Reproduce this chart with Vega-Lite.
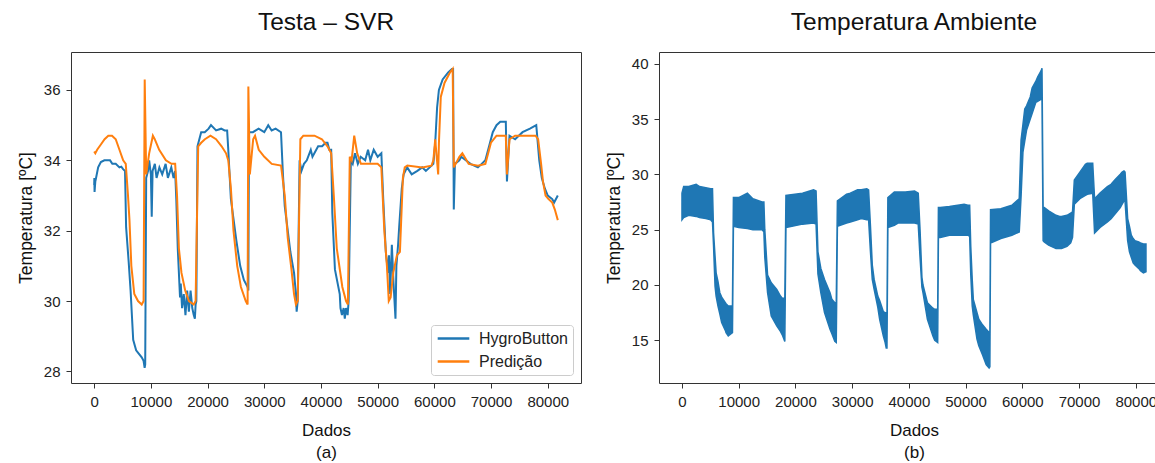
{
  "$schema": "https://vega.github.io/schema/vega-lite/v6.json",
  "padding": {"left": 16, "top": 9, "right": 0, "bottom": 0},
  "spacing": 22,
  "background": "white",
  "resolve": {"legend": {"color": "independent"}, "scale": {"color": "independent"}},
  "config": {
    "font": "Liberation Sans",
    "view": {"stroke": "#333", "strokeWidth": 1},
    "axis": {"grid": false, "domain": false, "tickColor": "#333", "tickSize": 5, "labelFontSize": 15, "labelColor": "#222", "titleColor": "#111", "titleFontWeight": "normal", "labelPadding": 6},
    "axisX": {"titleFontSize": 17, "titlePadding": 13, "titleLineHeight": 22},
    "axisY": {"titleFontSize": 17.5, "titlePadding": 8},
    "title": {"fontSize": 24.5, "fontWeight": "normal", "color": "#111", "offset": 17},
    "legend": {"orient": "bottom-right", "offset": 8, "strokeColor": "#ccc", "fillColor": "white", "cornerRadius": 3, "padding": 5, "labelFontSize": 16, "labelColor": "#222", "symbolType": "stroke", "symbolSize": 1000, "symbolStrokeWidth": 2.5, "labelOffset": 8, "rowPadding": 6, "clipHeight": 17}
  },
  "datasets": {
    "svr": [
      {"x":0,"t":33.3,"s":"HygroButton"},{"x":30,"t":33.5,"s":"HygroButton"},{"x":66,"t":33.1,"s":"HygroButton"},{"x":200,"t":33.4,"s":"HygroButton"},{"x":328,"t":33.5,"s":"HygroButton"},{"x":700,"t":33.8,"s":"HygroButton"},{"x":1179,"t":33.95,"s":"HygroButton"},{"x":1800,"t":34.0,"s":"HygroButton"},{"x":2500,"t":34.0,"s":"HygroButton"},{"x":2800,"t":34.0,"s":"HygroButton"},{"x":3200,"t":33.9,"s":"HygroButton"},{"x":3800,"t":33.9,"s":"HygroButton"},{"x":4450,"t":33.8,"s":"HygroButton"},{"x":4780,"t":33.82,"s":"HygroButton"},{"x":5100,"t":33.75,"s":"HygroButton"},{"x":5440,"t":33.7,"s":"HygroButton"},{"x":5630,"t":32.1,"s":"HygroButton"},{"x":6090,"t":31.1,"s":"HygroButton"},{"x":6420,"t":30.3,"s":"HygroButton"},{"x":6880,"t":28.9,"s":"HygroButton"},{"x":7400,"t":28.6,"s":"HygroButton"},{"x":8380,"t":28.4,"s":"HygroButton"},{"x":8710,"t":28.3,"s":"HygroButton"},{"x":8900,"t":28.1,"s":"HygroButton"},{"x":9000,"t":28.2,"s":"HygroButton"},{"x":9170,"t":33.5,"s":"HygroButton"},{"x":9500,"t":33.7,"s":"HygroButton"},{"x":9700,"t":34.0,"s":"HygroButton"},{"x":10000,"t":33.6,"s":"HygroButton"},{"x":10150,"t":32.4,"s":"HygroButton"},{"x":10300,"t":33.7,"s":"HygroButton"},{"x":10700,"t":33.9,"s":"HygroButton"},{"x":11000,"t":33.5,"s":"HygroButton"},{"x":11500,"t":33.8,"s":"HygroButton"},{"x":12000,"t":33.6,"s":"HygroButton"},{"x":12600,"t":33.9,"s":"HygroButton"},{"x":13000,"t":33.5,"s":"HygroButton"},{"x":13600,"t":33.8,"s":"HygroButton"},{"x":14000,"t":33.5,"s":"HygroButton"},{"x":14280,"t":33.7,"s":"HygroButton"},{"x":14480,"t":32.9,"s":"HygroButton"},{"x":14740,"t":31.5,"s":"HygroButton"},{"x":15140,"t":30.1,"s":"HygroButton"},{"x":15270,"t":30.5,"s":"HygroButton"},{"x":15500,"t":29.8,"s":"HygroButton"},{"x":15800,"t":30.2,"s":"HygroButton"},{"x":16100,"t":29.6,"s":"HygroButton"},{"x":16400,"t":30.3,"s":"HygroButton"},{"x":16700,"t":29.7,"s":"HygroButton"},{"x":17000,"t":30.3,"s":"HygroButton"},{"x":17300,"t":29.8,"s":"HygroButton"},{"x":17560,"t":29.6,"s":"HygroButton"},{"x":17760,"t":29.5,"s":"HygroButton"},{"x":17890,"t":29.9,"s":"HygroButton"},{"x":18020,"t":30.0,"s":"HygroButton"},{"x":18220,"t":34.4,"s":"HygroButton"},{"x":18870,"t":34.8,"s":"HygroButton"},{"x":19500,"t":34.8,"s":"HygroButton"},{"x":20180,"t":34.9,"s":"HygroButton"},{"x":20600,"t":35.0,"s":"HygroButton"},{"x":21500,"t":34.85,"s":"HygroButton"},{"x":22400,"t":34.9,"s":"HygroButton"},{"x":23000,"t":34.85,"s":"HygroButton"},{"x":23450,"t":34.85,"s":"HygroButton"},{"x":23650,"t":34.3,"s":"HygroButton"},{"x":24110,"t":32.9,"s":"HygroButton"},{"x":25090,"t":31.7,"s":"HygroButton"},{"x":25750,"t":31.0,"s":"HygroButton"},{"x":26400,"t":30.6,"s":"HygroButton"},{"x":27060,"t":30.4,"s":"HygroButton"},{"x":27190,"t":30.3,"s":"HygroButton"},{"x":27300,"t":34.8,"s":"HygroButton"},{"x":28000,"t":34.8,"s":"HygroButton"},{"x":29000,"t":34.9,"s":"HygroButton"},{"x":30000,"t":34.8,"s":"HygroButton"},{"x":30700,"t":35.0,"s":"HygroButton"},{"x":31300,"t":34.85,"s":"HygroButton"},{"x":32000,"t":34.9,"s":"HygroButton"},{"x":32950,"t":34.8,"s":"HygroButton"},{"x":33290,"t":33.6,"s":"HygroButton"},{"x":33610,"t":32.7,"s":"HygroButton"},{"x":34600,"t":31.4,"s":"HygroButton"},{"x":35250,"t":30.8,"s":"HygroButton"},{"x":35580,"t":30.2,"s":"HygroButton"},{"x":35710,"t":29.7,"s":"HygroButton"},{"x":35900,"t":30.0,"s":"HygroButton"},{"x":36230,"t":34.0,"s":"HygroButton"},{"x":36560,"t":33.7,"s":"HygroButton"},{"x":37000,"t":33.9,"s":"HygroButton"},{"x":37500,"t":34.0,"s":"HygroButton"},{"x":38200,"t":34.3,"s":"HygroButton"},{"x":38500,"t":34.1,"s":"HygroButton"},{"x":39500,"t":34.4,"s":"HygroButton"},{"x":40200,"t":34.4,"s":"HygroButton"},{"x":40820,"t":34.5,"s":"HygroButton"},{"x":41150,"t":34.5,"s":"HygroButton"},{"x":41470,"t":34.3,"s":"HygroButton"},{"x":41800,"t":34.3,"s":"HygroButton"},{"x":42000,"t":32.5,"s":"HygroButton"},{"x":42460,"t":30.9,"s":"HygroButton"},{"x":43310,"t":30.2,"s":"HygroButton"},{"x":43440,"t":29.8,"s":"HygroButton"},{"x":43700,"t":29.6,"s":"HygroButton"},{"x":44000,"t":29.8,"s":"HygroButton"},{"x":44200,"t":29.5,"s":"HygroButton"},{"x":44420,"t":29.8,"s":"HygroButton"},{"x":44700,"t":29.6,"s":"HygroButton"},{"x":44880,"t":30.0,"s":"HygroButton"},{"x":45270,"t":34.0,"s":"HygroButton"},{"x":45600,"t":33.9,"s":"HygroButton"},{"x":46000,"t":34.2,"s":"HygroButton"},{"x":46500,"t":33.9,"s":"HygroButton"},{"x":47000,"t":34.1,"s":"HygroButton"},{"x":47800,"t":34.0,"s":"HygroButton"},{"x":48300,"t":34.3,"s":"HygroButton"},{"x":48700,"t":34.0,"s":"HygroButton"},{"x":49300,"t":34.3,"s":"HygroButton"},{"x":50000,"t":34.1,"s":"HygroButton"},{"x":50650,"t":34.2,"s":"HygroButton"},{"x":50980,"t":32.9,"s":"HygroButton"},{"x":51430,"t":31.4,"s":"HygroButton"},{"x":51830,"t":30.8,"s":"HygroButton"},{"x":52000,"t":31.3,"s":"HygroButton"},{"x":52200,"t":30.2,"s":"HygroButton"},{"x":52500,"t":31.6,"s":"HygroButton"},{"x":52800,"t":30.5,"s":"HygroButton"},{"x":53140,"t":29.5,"s":"HygroButton"},{"x":53300,"t":31.0,"s":"HygroButton"},{"x":53600,"t":31.6,"s":"HygroButton"},{"x":53790,"t":32.1,"s":"HygroButton"},{"x":54250,"t":33.2,"s":"HygroButton"},{"x":54580,"t":33.6,"s":"HygroButton"},{"x":55200,"t":33.8,"s":"HygroButton"},{"x":56000,"t":33.6,"s":"HygroButton"},{"x":57000,"t":33.7,"s":"HygroButton"},{"x":57850,"t":33.8,"s":"HygroButton"},{"x":58500,"t":33.7,"s":"HygroButton"},{"x":59170,"t":33.8,"s":"HygroButton"},{"x":59820,"t":33.9,"s":"HygroButton"},{"x":60150,"t":34.5,"s":"HygroButton"},{"x":60480,"t":35.5,"s":"HygroButton"},{"x":60800,"t":36.0,"s":"HygroButton"},{"x":61460,"t":36.3,"s":"HygroButton"},{"x":62440,"t":36.5,"s":"HygroButton"},{"x":63100,"t":36.6,"s":"HygroButton"},{"x":63300,"t":36.6,"s":"HygroButton"},{"x":63425,"t":32.6,"s":"HygroButton"},{"x":63620,"t":33.9,"s":"HygroButton"},{"x":64400,"t":34.0,"s":"HygroButton"},{"x":64740,"t":34.1,"s":"HygroButton"},{"x":66370,"t":33.9,"s":"HygroButton"},{"x":67680,"t":33.8,"s":"HygroButton"},{"x":68340,"t":33.9,"s":"HygroButton"},{"x":68990,"t":34.0,"s":"HygroButton"},{"x":69650,"t":34.4,"s":"HygroButton"},{"x":70300,"t":34.8,"s":"HygroButton"},{"x":70960,"t":35.0,"s":"HygroButton"},{"x":71620,"t":35.1,"s":"HygroButton"},{"x":72600,"t":35.1,"s":"HygroButton"},{"x":72800,"t":33.4,"s":"HygroButton"},{"x":73250,"t":34.7,"s":"HygroButton"},{"x":74240,"t":34.6,"s":"HygroButton"},{"x":75550,"t":34.8,"s":"HygroButton"},{"x":76860,"t":34.9,"s":"HygroButton"},{"x":77970,"t":35.0,"s":"HygroButton"},{"x":78500,"t":34.0,"s":"HygroButton"},{"x":78950,"t":33.5,"s":"HygroButton"},{"x":79480,"t":33.2,"s":"HygroButton"},{"x":80000,"t":33.0,"s":"HygroButton"},{"x":80790,"t":32.9,"s":"HygroButton"},{"x":81120,"t":32.8,"s":"HygroButton"},{"x":81770,"t":33.0,"s":"HygroButton"},
      {"x":0,"t":34.25,"s":"Predição"},{"x":197,"t":34.2,"s":"Predição"},{"x":524,"t":34.3,"s":"Predição"},{"x":1179,"t":34.45,"s":"Predição"},{"x":1835,"t":34.6,"s":"Predição"},{"x":2490,"t":34.7,"s":"Predição"},{"x":3145,"t":34.7,"s":"Predição"},{"x":3800,"t":34.6,"s":"Predição"},{"x":4455,"t":34.3,"s":"Predição"},{"x":5111,"t":34.0,"s":"Predição"},{"x":5569,"t":33.9,"s":"Predição"},{"x":5962,"t":33.0,"s":"Predição"},{"x":6224,"t":32.3,"s":"Predição"},{"x":6552,"t":31.0,"s":"Predição"},{"x":7076,"t":30.2,"s":"Predição"},{"x":7731,"t":30.0,"s":"Predição"},{"x":8387,"t":29.9,"s":"Predição"},{"x":8714,"t":30.0,"s":"Predição"},{"x":8911,"t":36.3,"s":"Predição"},{"x":9173,"t":33.6,"s":"Predição"},{"x":9697,"t":34.2,"s":"Predição"},{"x":10352,"t":34.7,"s":"Predição"},{"x":10680,"t":34.6,"s":"Predição"},{"x":11466,"t":34.3,"s":"Predição"},{"x":12645,"t":34.0,"s":"Predição"},{"x":13628,"t":33.9,"s":"Predição"},{"x":14283,"t":33.9,"s":"Predição"},{"x":14611,"t":33.0,"s":"Predição"},{"x":14939,"t":31.5,"s":"Predição"},{"x":15397,"t":30.8,"s":"Predição"},{"x":16052,"t":30.3,"s":"Predição"},{"x":16708,"t":30.0,"s":"Predição"},{"x":17559,"t":29.9,"s":"Predição"},{"x":17887,"t":30.0,"s":"Predição"},{"x":18346,"t":34.4,"s":"Predição"},{"x":18870,"t":34.5,"s":"Predição"},{"x":19525,"t":34.6,"s":"Predição"},{"x":20508,"t":34.7,"s":"Predição"},{"x":21491,"t":34.6,"s":"Predição"},{"x":22473,"t":34.4,"s":"Predição"},{"x":23260,"t":34.2,"s":"Predição"},{"x":23653,"t":34.0,"s":"Predição"},{"x":24112,"t":33.2,"s":"Predição"},{"x":24570,"t":32.0,"s":"Predição"},{"x":25225,"t":31.0,"s":"Predição"},{"x":25880,"t":30.4,"s":"Predição"},{"x":26732,"t":30.0,"s":"Predição"},{"x":27060,"t":29.9,"s":"Predição"},{"x":27191,"t":36.1,"s":"Predição"},{"x":27453,"t":33.6,"s":"Predição"},{"x":28043,"t":34.6,"s":"Predição"},{"x":28370,"t":34.7,"s":"Predição"},{"x":29025,"t":34.3,"s":"Predição"},{"x":30008,"t":34.1,"s":"Predição"},{"x":31319,"t":33.9,"s":"Predição"},{"x":32957,"t":33.85,"s":"Predição"},{"x":33612,"t":33.0,"s":"Predição"},{"x":34136,"t":31.8,"s":"Predição"},{"x":34791,"t":30.9,"s":"Predição"},{"x":35250,"t":30.2,"s":"Predição"},{"x":35578,"t":29.9,"s":"Predição"},{"x":35905,"t":30.0,"s":"Predição"},{"x":36364,"t":34.6,"s":"Predição"},{"x":36888,"t":34.7,"s":"Predição"},{"x":38854,"t":34.7,"s":"Predição"},{"x":40164,"t":34.6,"s":"Predição"},{"x":41147,"t":34.4,"s":"Predição"},{"x":41802,"t":34.2,"s":"Predição"},{"x":42261,"t":33.0,"s":"Predição"},{"x":42785,"t":31.5,"s":"Predição"},{"x":43767,"t":30.4,"s":"Predição"},{"x":44423,"t":30.0,"s":"Predição"},{"x":44750,"t":29.9,"s":"Predição"},{"x":45078,"t":34.1,"s":"Predição"},{"x":45405,"t":34.0,"s":"Predição"},{"x":45864,"t":34.7,"s":"Predição"},{"x":46388,"t":34.2,"s":"Predição"},{"x":47043,"t":33.9,"s":"Predição"},{"x":48681,"t":33.9,"s":"Predição"},{"x":49992,"t":33.9,"s":"Predição"},{"x":50647,"t":33.8,"s":"Predição"},{"x":51172,"t":32.0,"s":"Predição"},{"x":51630,"t":31.0,"s":"Predição"},{"x":51958,"t":30.0,"s":"Predição"},{"x":52285,"t":30.1,"s":"Predição"},{"x":52744,"t":30.8,"s":"Predição"},{"x":53399,"t":31.3,"s":"Predição"},{"x":53924,"t":31.4,"s":"Predição"},{"x":54448,"t":33.5,"s":"Predição"},{"x":54776,"t":33.8,"s":"Predição"},{"x":55234,"t":33.85,"s":"Predição"},{"x":57855,"t":33.8,"s":"Predição"},{"x":59493,"t":33.85,"s":"Predição"},{"x":59820,"t":34.0,"s":"Predição"},{"x":60148,"t":34.6,"s":"Predição"},{"x":60672,"t":33.6,"s":"Predição"},{"x":60803,"t":34.5,"s":"Predição"},{"x":61131,"t":35.8,"s":"Predição"},{"x":61786,"t":36.2,"s":"Predição"},{"x":62769,"t":36.5,"s":"Predição"},{"x":63228,"t":36.6,"s":"Predição"},{"x":63425,"t":33.8,"s":"Predição"},{"x":64407,"t":34.1,"s":"Predição"},{"x":64931,"t":34.2,"s":"Predição"},{"x":66045,"t":33.9,"s":"Predição"},{"x":67683,"t":33.85,"s":"Predição"},{"x":68994,"t":33.9,"s":"Predição"},{"x":69977,"t":34.5,"s":"Predição"},{"x":70960,"t":34.7,"s":"Predição"},{"x":72598,"t":34.7,"s":"Predição"},{"x":72795,"t":33.6,"s":"Predição"},{"x":73253,"t":34.6,"s":"Predição"},{"x":74236,"t":34.7,"s":"Predição"},{"x":77840,"t":34.7,"s":"Predição"},{"x":78299,"t":34.6,"s":"Predição"},{"x":78823,"t":33.9,"s":"Predição"},{"x":79151,"t":33.4,"s":"Predição"},{"x":79610,"t":33.0,"s":"Predição"},{"x":80134,"t":32.9,"s":"Predição"},{"x":80789,"t":32.8,"s":"Predição"},{"x":81248,"t":32.6,"s":"Predição"},{"x":81772,"t":32.3,"s":"Predição"}
    ],
    "amb": [
      {"x":0,"lo":25.9,"hi":28.3},{"x":300,"lo":26.1,"hi":28.9},{"x":1200,"lo":26.3,"hi":28.9},{"x":2500,"lo":26.2,"hi":29.1},{"x":3100,"lo":26.1,"hi":28.9},{"x":4200,"lo":26.0,"hi":28.8},{"x":5050,"lo":25.9,"hi":28.7},{"x":5380,"lo":25.7,"hi":28.7},{"x":5570,"lo":23.5,"hi":24.7},{"x":5830,"lo":19.9,"hi":22.6},{"x":6020,"lo":19.0,"hi":21.1},{"x":6350,"lo":18.1,"hi":20.3},{"x":6670,"lo":17.4,"hi":19.3},{"x":7000,"lo":16.6,"hi":18.9},{"x":7640,"lo":15.9,"hi":18.4},{"x":7770,"lo":15.7,"hi":18.3},{"x":8160,"lo":15.4,"hi":18.1},{"x":8900,"lo":15.7,"hi":18.1},{"x":9070,"lo":25.3,"hi":27.9},{"x":10000,"lo":25.2,"hi":27.9},{"x":11530,"lo":25.1,"hi":28.3},{"x":12500,"lo":25.0,"hi":27.8},{"x":14120,"lo":25.0,"hi":27.5},{"x":14440,"lo":24.8,"hi":27.5},{"x":14600,"lo":22.5,"hi":25.0},{"x":15090,"lo":19.3,"hi":20.9},{"x":15740,"lo":17.2,"hi":20.2},{"x":16710,"lo":16.3,"hi":19.6},{"x":17360,"lo":15.8,"hi":19.0},{"x":17680,"lo":15.5,"hi":18.8},{"x":18130,"lo":14.9,"hi":18.8},{"x":18330,"lo":25.2,"hi":28.1},{"x":21250,"lo":25.5,"hi":28.3},{"x":23190,"lo":25.6,"hi":28.6},{"x":23640,"lo":25.5,"hi":28.5},{"x":23970,"lo":21.0,"hi":23.0},{"x":24480,"lo":19.3,"hi":21.5},{"x":25130,"lo":17.5,"hi":20.5},{"x":26100,"lo":16.0,"hi":19.3},{"x":26430,"lo":15.6,"hi":18.7},{"x":26940,"lo":14.9,"hi":18.4},{"x":27200,"lo":14.8,"hi":18.4},{"x":27400,"lo":25.3,"hi":27.6},{"x":29020,"lo":25.6,"hi":28.2},{"x":29670,"lo":25.7,"hi":28.3},{"x":30960,"lo":25.9,"hi":28.6},{"x":31610,"lo":26.0,"hi":28.6},{"x":32580,"lo":25.9,"hi":28.7},{"x":32900,"lo":25.9,"hi":28.6},{"x":33230,"lo":23.0,"hi":25.3},{"x":33550,"lo":20.5,"hi":21.8},{"x":33880,"lo":19.6,"hi":20.5},{"x":34520,"lo":18.0,"hi":19.0},{"x":34850,"lo":16.9,"hi":18.6},{"x":35490,"lo":15.4,"hi":17.6},{"x":35820,"lo":14.8,"hi":17.5},{"x":36010,"lo":14.3,"hi":17.5},{"x":36140,"lo":14.3,"hi":17.4},{"x":36300,"lo":25.2,"hi":27.9},{"x":37440,"lo":25.4,"hi":28.4},{"x":38090,"lo":25.6,"hi":28.4},{"x":39380,"lo":25.6,"hi":28.4},{"x":41000,"lo":25.6,"hi":28.5},{"x":41650,"lo":25.5,"hi":28.3},{"x":41970,"lo":22.5,"hi":25.0},{"x":42300,"lo":19.8,"hi":20.7},{"x":42490,"lo":19.3,"hi":20.0},{"x":43270,"lo":16.9,"hi":18.4},{"x":44240,"lo":15.4,"hi":17.9},{"x":44560,"lo":15.0,"hi":17.8},{"x":45080,"lo":14.8,"hi":17.8},{"x":45210,"lo":24.3,"hi":27.0},{"x":45530,"lo":24.3,"hi":27.0},{"x":47150,"lo":24.5,"hi":27.1},{"x":49740,"lo":24.5,"hi":27.3},{"x":50390,"lo":24.5,"hi":27.2},{"x":50720,"lo":24.4,"hi":27.2},{"x":50910,"lo":21.0,"hi":23.5},{"x":51170,"lo":18.1,"hi":20.5},{"x":51360,"lo":17.3,"hi":18.7},{"x":52010,"lo":15.1,"hi":17.5},{"x":52330,"lo":14.5,"hi":16.9},{"x":52980,"lo":13.7,"hi":16.4},{"x":53630,"lo":12.8,"hi":16.0},{"x":54150,"lo":12.5,"hi":15.7},{"x":54280,"lo":12.6,"hi":15.6},{"x":54400,"lo":23.8,"hi":26.8},{"x":56220,"lo":24.2,"hi":26.9},{"x":58160,"lo":24.5,"hi":27.2},{"x":59460,"lo":24.8,"hi":27.8},{"x":59780,"lo":28.0,"hi":33.1},{"x":60110,"lo":32.0,"hi":34.5},{"x":60430,"lo":33.0,"hi":35.9},{"x":60750,"lo":34.0,"hi":36.2},{"x":61080,"lo":34.5,"hi":36.6},{"x":61400,"lo":35.0,"hi":37.0},{"x":61730,"lo":35.5,"hi":37.8},{"x":62370,"lo":36.5,"hi":38.4},{"x":62700,"lo":36.6,"hi":38.8},{"x":63350,"lo":36.8,"hi":39.4},{"x":63470,"lo":36.8,"hi":39.6},{"x":63670,"lo":24.0,"hi":27.0},{"x":63860,"lo":23.9,"hi":27.0},{"x":64640,"lo":23.6,"hi":26.7},{"x":65940,"lo":23.3,"hi":26.3},{"x":66580,"lo":23.3,"hi":26.2},{"x":66910,"lo":23.3,"hi":26.2},{"x":67880,"lo":23.5,"hi":26.3},{"x":68530,"lo":23.8,"hi":26.5},{"x":68850,"lo":24.3,"hi":26.6},{"x":69170,"lo":27.3,"hi":29.5},{"x":70150,"lo":27.8,"hi":30.2},{"x":71120,"lo":28.1,"hi":30.9},{"x":71440,"lo":28.2,"hi":31.0},{"x":72410,"lo":28.3,"hi":31.0},{"x":72740,"lo":24.7,"hi":27.8},{"x":73710,"lo":25.2,"hi":28.3},{"x":75000,"lo":25.7,"hi":28.9},{"x":75650,"lo":26.0,"hi":29.1},{"x":76300,"lo":26.4,"hi":29.5},{"x":77270,"lo":27.0,"hi":30.0},{"x":77600,"lo":27.3,"hi":30.2},{"x":77920,"lo":27.6,"hi":30.3},{"x":78110,"lo":27.6,"hi":30.2},{"x":78570,"lo":24.0,"hi":26.0},{"x":78890,"lo":23.0,"hi":25.3},{"x":79210,"lo":22.5,"hi":24.5},{"x":79540,"lo":22.0,"hi":24.2},{"x":79860,"lo":21.8,"hi":24.0},{"x":80510,"lo":21.5,"hi":23.9},{"x":80830,"lo":21.3,"hi":23.8},{"x":81350,"lo":21.1,"hi":23.7},{"x":81800,"lo":21.2,"hi":23.7}
    ]
  },
  "hconcat": [
    {
      "width": 510,
      "height": 331,
      "title": {"text": "Testa – SVR"},
      "data": {"name": "svr"},
      "mark": {"type": "line", "strokeWidth": 2, "clip": true},
      "encoding": {
        "x": {"field": "x", "type": "quantitative", "scale": {"domain": [-4089, 85861], "nice": false, "zero": false}, "axis": {"values": [0,10000,20000,30000,40000,50000,60000,70000,80000], "format": "d", "title": ["Dados", "(a)"]}},
        "y": {"field": "t", "type": "quantitative", "scale": {"domain": [27.67, 37.08], "nice": false, "zero": false}, "axis": {"values": [28,30,32,34,36], "title": "Temperatura [ºC]"}},
        "color": {"field": "s", "type": "nominal", "scale": {"domain": ["HygroButton", "Predição"], "range": ["#1f77b4", "#ff7f0e"]}, "legend": {"title": null, "orient": "bottom-right"}}
      }
    },
    {
      "width": 510,
      "height": 331,
      "title": {"text": "Temperatura Ambiente"},
      "data": {"name": "amb"},
      "mark": {"type": "area", "color": "#1f77b4", "stroke": "#1f77b4", "strokeWidth": 1.5, "opacity": 1, "clip": true},
      "encoding": {
        "x": {"field": "x", "type": "quantitative", "scale": {"domain": [-4050, 85860], "nice": false, "zero": false}, "axis": {"values": [0,10000,20000,30000,40000,50000,60000,70000,80000], "format": "d", "title": ["Dados", "(b)"]}},
        "y": {"field": "lo", "type": "quantitative", "scale": {"domain": [11.14, 41.06], "nice": false, "zero": false}, "axis": {"values": [15,20,25,30,35,40], "title": "Temperatura [ºC]"}},
        "y2": {"field": "hi"}
      }
    }
  ]
}
